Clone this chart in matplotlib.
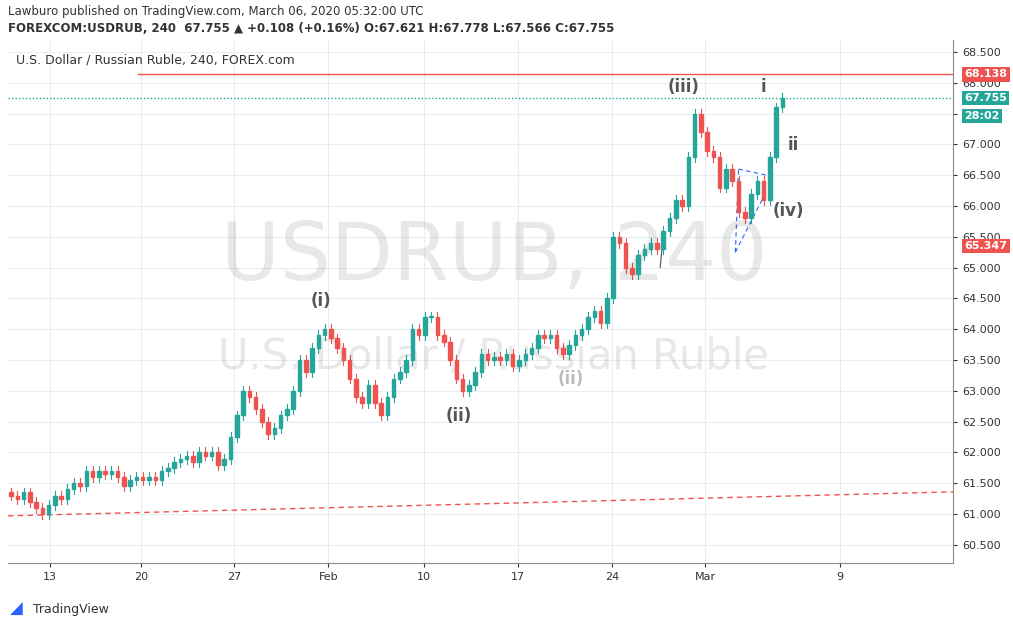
import matplotlib
matplotlib.use("Agg")
import matplotlib.pyplot as plt
from matplotlib.patches import Rectangle

closes = [61.3,61.25,61.35,61.2,61.1,61.0,61.15,61.3,61.25,61.4,61.5,61.45,61.7,61.6,61.7,61.65,61.7,61.6,61.45,61.55,
61.6,61.55,61.6,61.55,61.7,61.75,61.85,61.9,61.95,61.85,62.0,61.95,62.0,61.8,61.9,62.25,62.6,63.0,62.9,62.7,
62.5,62.3,62.4,62.6,62.7,63.0,63.5,63.3,63.7,63.9,64.0,63.85,63.7,63.5,63.2,62.9,62.8,63.1,62.8,62.6,
62.9,63.2,63.3,63.5,64.0,63.9,64.2,64.2,63.9,63.8,63.5,63.2,63.0,63.1,63.3,63.6,63.5,63.55,63.5,63.6,
63.4,63.5,63.6,63.7,63.9,63.85,63.9,63.7,63.6,63.75,63.9,64.0,64.2,64.3,64.1,64.5,65.5,65.4,65.0,64.9,
65.2,65.3,65.4,65.3,65.6,65.8,66.1,66.0,66.8,67.5,67.2,66.9,66.8,66.3,66.6,66.4,65.9,65.8,66.2,66.4,
66.1,66.8,67.6,67.755]
first_open = 61.35
tick_pos = [6.2, 20.7, 35.6, 50.6, 65.9, 80.9, 95.8, 110.7, 132.2]
tick_labels = ["13", "20", "27", "Feb", "10", "17", "24", "Mar", "9"]
price_ticks = [60.5,61,61.5,62,62.5,63,63.5,64,64.5,65,65.5,66,66.5,67,67.5,68,68.5]

UP, DN = "#26a69a", "#ef5350"
W, H = 1013, 628
fig = plt.figure(figsize=(W/100, H/100), dpi=100)
ax = fig.add_axes([8/W, 65/H, 945/W, 523/H])
ax.set_xlim(-0.48, 150.2)
ax.set_ylim(60.205, 68.695)

for i, c in enumerate(closes):
    o = first_open if i == 0 else closes[i-1]
    col = UP if c >= o else DN
    ax.plot([i, i], [min(o, c) - 0.08, max(o, c) + 0.08], color=col, lw=0.8, zorder=3)
    ax.add_patch(Rectangle((i - 0.28, min(o, c)), 0.56, max(abs(c - o), 0.015), color=col, zorder=4))

ax.set_xticks(tick_pos, tick_labels)
ax.set_yticks(price_ticks, [f"{p:.3f}" for p in price_ticks])
ax.yaxis.tick_right()
ax.tick_params(colors="#333", labelsize=8, length=3)
ax.grid(color="#e6eef5", lw=0.8)
for s in ax.spines.values():
    s.set_color("#888")
ax.spines["top"].set_visible(False)
ax.spines["left"].set_visible(False)

ax.text(77, 65.15, "USDRUB, 240", fontsize=58, color="#000", alpha=0.09, ha="center", va="center")
ax.text(77, 63.55, "U.S. Dollar / Russian Ruble", fontsize=30, color="#000", alpha=0.09, ha="center", va="center")

ax.plot([20.2, 150.2], [68.138, 68.138], color=DN, lw=1)
ax.axhline(67.755, color=UP, lw=1, ls=(0, (1, 1.5)))
ax.plot([-0.48, 150.2], [60.97, 61.36], color=DN, lw=1, ls=(0, (4, 3)))
ax.plot([115.5, 120.5], [65.25, 66.25], color="#2962ff", lw=0.8, ls=(0, (4, 3)))
ax.plot([115.5, 116], [65.25, 66.6], color="#2962ff", lw=0.8, ls=(0, (4, 3)))
ax.plot([116, 120.5], [66.6, 66.5], color="#2962ff", lw=0.8, ls=(0, (4, 3)))
ax.plot([104, 103.5], [65.5, 65.0], color="#555", lw=0.8)

lab = dict(fontsize=12, fontweight="bold", color="#555", ha="center", va="center")
ax.text(107.2, 67.93, "(iii)", **lab)
ax.text(120.0, 67.93, "i", **lab)
ax.text(124.7, 66.99, "ii", **lab)
ax.text(123.9, 65.92, "(iv)", **lab)
ax.text(49.4, 64.46, "(i)", **lab)
ax.text(71.4, 62.59, "(ii)", **lab)
ax.text(89.2, 63.19, "(ii)", fontsize=12, fontweight="bold", color="#bbb", ha="center", va="center")

def plabel(y, txt, col):
    ax.text(1.012, y, txt, transform=ax.get_yaxis_transform(), fontsize=8, fontweight="bold",
            color="white", va="center", ha="left",
            bbox=dict(boxstyle="square,pad=0.2", fc=col, ec="none"))
plabel(68.138, "68.138", DN)
plabel(67.755, "67.755", UP)
plabel(67.46, "28:02", UP)
plabel(65.347, "65.347", DN)

ax.text(0.008, 0.975, "U.S. Dollar / Russian Ruble, 240, FOREX.com", transform=ax.transAxes,
        fontsize=9, color="#333", va="top")
fig.text(8/W, 1 - 12/H, "Lawburo published on TradingView.com, March 06, 2020 05:32:00 UTC",
         fontsize=8.5, color="#333", va="center")
fig.text(8/W, 1 - 29/H, "FOREXCOM:USDRUB, 240  67.755 ▲ +0.108 (+0.16%) O:67.621 H:67.778 L:67.566 C:67.755",
         fontsize=8.5, color="#333", va="center", fontweight="bold")
fig.text(33/W, 1 - 609/H, "TradingView", fontsize=9, color="#333", va="center")
fig.text(10/W, 1 - 609/H, "◢", fontsize=12, color="#2962ff", va="center")
fig.savefig("out.png", dpi=100)
